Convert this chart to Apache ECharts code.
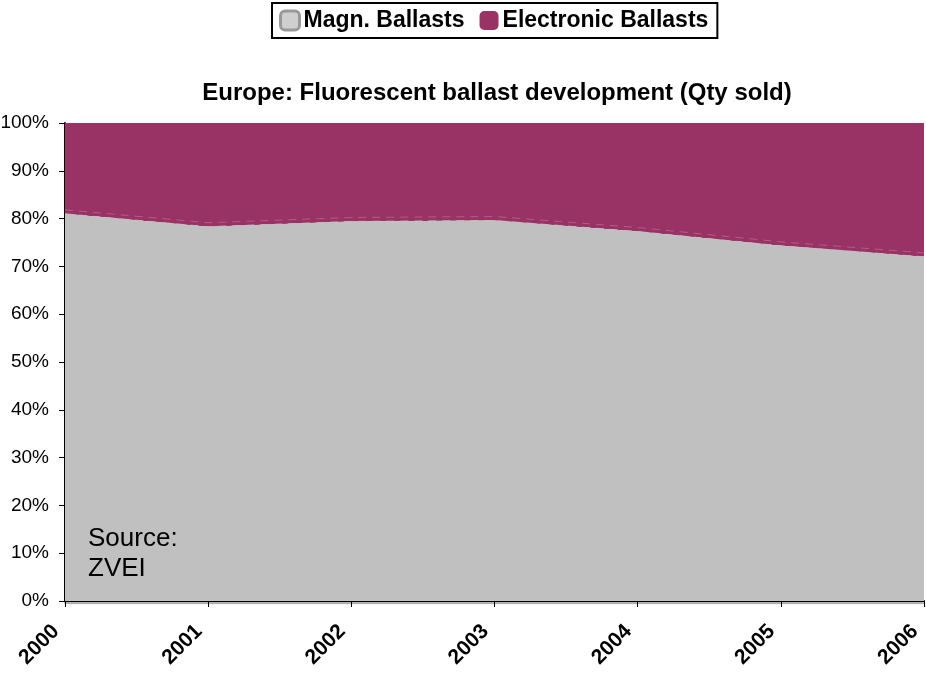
<!DOCTYPE html>
<html>
<head>
<meta charset="utf-8">
<script src="https://cdn.jsdelivr.net/npm/echarts@6/dist/echarts.min.js"></script>
<style>
  html, body { margin: 0; padding: 0; background: #fff; }
  #chart { width: 926px; height: 677px; }
</style>
</head>
<body>
<div id="chart"></div>
<script>
// Share of fluorescent ballasts sold in Europe, by type (percent of quantity)
const years = ['2000', '2001', '2002', '2003', '2004', '2005', '2006'];
const magnetic = [81.0, 78.3, 79.4, 79.6, 77.3, 74.3, 72.0];
const electronic = [19.0, 21.7, 20.6, 20.4, 22.7, 25.7, 28.0];
const yTicks = [0, 10, 20, 30, 40, 50, 60, 70, 80, 90, 100];

const chart = echarts.init(document.getElementById('chart'));
const font = 'Arial, "Liberation Sans", sans-serif';

chart.setOption({
  animation: false,
  backgroundColor: '#ffffff',
  title: {
    text: 'Europe: Fluorescent ballast development (Qty sold)',
    left: 492,
    textAlign: 'center',
    top: 76,
    textStyle: { fontFamily: font, fontSize: 24, fontWeight: 'bold', color: '#000' }
  },
  legend: {
    top: 3,
    left: 272,
    data: [
      { name: 'Magn. Ballasts', itemStyle: { color: '#cfcfcf', borderColor: '#999999', borderWidth: 3 } },
      { name: 'Electronic Ballasts' }
    ],
    icon: 'roundRect',
    itemWidth: 19,
    itemHeight: 19,
    itemGap: 15,
    borderColor: '#000',
    borderWidth: 2,
    padding: [6, 9, 6, 7],
    textStyle: { fontFamily: font, fontSize: 23, fontWeight: 'bold', color: '#000', padding: [0, 0, 0, -1] }
  },
  grid: { left: 65, right: 2, top: 123, bottom: 76, containLabel: false, outerBoundsMode: 'none' },
  xAxis: {
    type: 'category',
    data: years,
    boundaryGap: false,
    axisLine: { lineStyle: { color: '#000', width: 2, shadowColor: 'rgba(0,0,0,0.35)', shadowOffsetY: 2, shadowBlur: 1 } },
    axisTick: { show: true, length: 6, lineStyle: { color: '#000', width: 1 } },
    axisLabel: {
      rotate: 45,
      margin: 18,
      padding: [0, 13, 0, 0],
      fontFamily: font,
      fontSize: 21,
      fontWeight: 'bold',
      color: '#000'
    },
    splitLine: { show: false }
  },
  yAxis: {
    type: 'value',
    min: 0,
    max: 100,
    interval: 10,
    axisLine: { show: true, lineStyle: { color: '#000', width: 2 } },
    axisTick: { show: true, length: 6, lineStyle: { color: '#000', width: 1 } },
    axisLabel: {
      margin: 16,
      fontFamily: font,
      fontSize: 19,
      color: '#000',
      formatter: v => (yTicks.includes(v) ? v + '%' : '')
    },
    splitLine: { show: false }
  },
  series: [
    {
      name: 'Magn. Ballasts',
      type: 'line',
      stack: 'share',
      data: magnetic,
      symbol: 'none',
      lineStyle: {
        width: 1,
        color: '#c0c0c0',
        type: [8, 6],
        shadowColor: '#b55a89',
        shadowOffsetY: -4
      },
      itemStyle: { color: '#c0c0c0' },
      areaStyle: { color: '#c0c0c0', opacity: 1 },
      z: 2
    },
    {
      name: 'Electronic Ballasts',
      type: 'line',
      stack: 'share',
      data: electronic,
      symbol: 'none',
      lineStyle: { width: 0, color: '#993366' },
      itemStyle: { color: '#993366' },
      areaStyle: { color: '#993366', opacity: 1 },
      z: 1
    }
  ],
  graphic: [
    {
      type: 'text',
      left: 88,
      top: 524,
      style: {
        text: 'Source:\nZVEI',
        font: '26px ' + font,
        fill: '#000',
        lineHeight: 30
      },
      z: 10
    }
  ]
});
</script>
</body>
</html>
